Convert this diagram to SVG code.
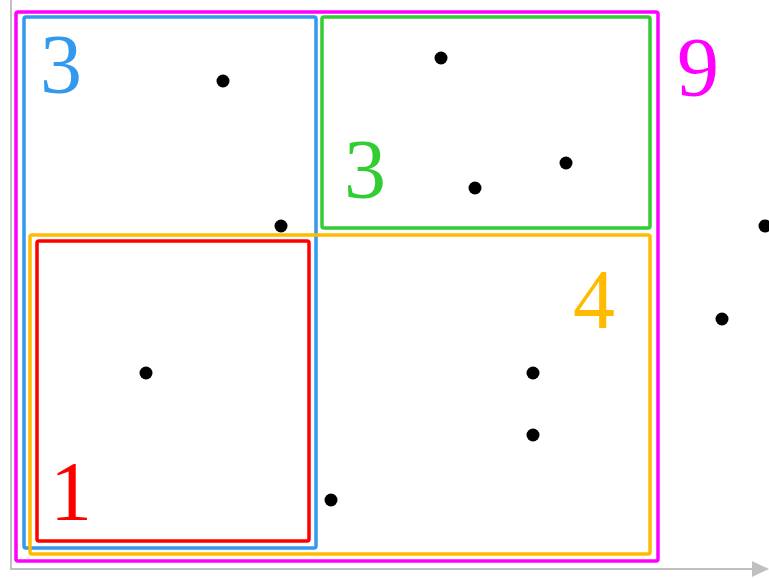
<svg xmlns="http://www.w3.org/2000/svg" width="769" height="578" viewBox="0 0 769 578">
<style>
.box{fill:none;stroke-width:3.5}
.lbl{font-family:"Liberation Serif","Times New Roman",serif;font-size:84px;text-anchor:middle}
.pt{fill:#000}
.axis{stroke:#c0c0c0;stroke-width:2;fill:none}
</style>
<defs>
<marker id="arr" viewBox="0 0 10 10" refX="9" refY="5" markerWidth="7" markerHeight="7" orient="auto" markerUnits="userSpaceOnUse">
<path d="M0,0 L10,5 L0,10 z" fill="#c0c0c0"/>
</marker>
</defs>
<g id="axes">
<line class="axis" x1="11" y1="0" x2="11" y2="570"/>
<line class="axis" x1="10" y1="569" x2="765" y2="569"/>
<path d="M752,561 L769,569 L752,577 z" fill="#c0c0c0"/>
</g>
<g id="box9"><rect class="box" x="16" y="12" width="642" height="549" rx="2" stroke="#ff00ff"/><text class="lbl" x="698" y="96" fill="#ff00ff">9</text></g>
<g id="box3blue"><rect class="box" x="24" y="17" width="292" height="531" rx="2" stroke="#3399ee"/><text class="lbl" x="61" y="93" fill="#3399ee">3</text></g>
<g id="box3green"><rect class="box" x="322" y="17" width="328" height="211" rx="2" stroke="#33cc33"/><text class="lbl" x="365" y="198" fill="#33cc33">3</text></g>
<g id="box4"><rect class="box" x="30" y="235" width="620" height="319" rx="2" stroke="#ffbb00"/><text class="lbl" x="594" y="328" fill="#ffbb00">4</text></g>
<g id="box1"><rect class="box" x="37" y="241" width="272" height="300" rx="2" stroke="#ff0000"/><text class="lbl" x="71" y="520" fill="#ff0000">1</text></g>
<g id="points">
<circle class="pt" cx="223" cy="81" r="6.5"/>
<circle class="pt" cx="441" cy="58" r="6.5"/>
<circle class="pt" cx="566" cy="163" r="6.5"/>
<circle class="pt" cx="475" cy="188" r="6.5"/>
<circle class="pt" cx="281" cy="226" r="6.5"/>
<circle class="pt" cx="765" cy="226" r="6.5"/>
<circle class="pt" cx="722" cy="319" r="6.5"/>
<circle class="pt" cx="146" cy="373" r="6.5"/>
<circle class="pt" cx="533" cy="373" r="6.5"/>
<circle class="pt" cx="533" cy="435" r="6.5"/>
<circle class="pt" cx="331" cy="500" r="6.5"/>
</g>
</svg>
